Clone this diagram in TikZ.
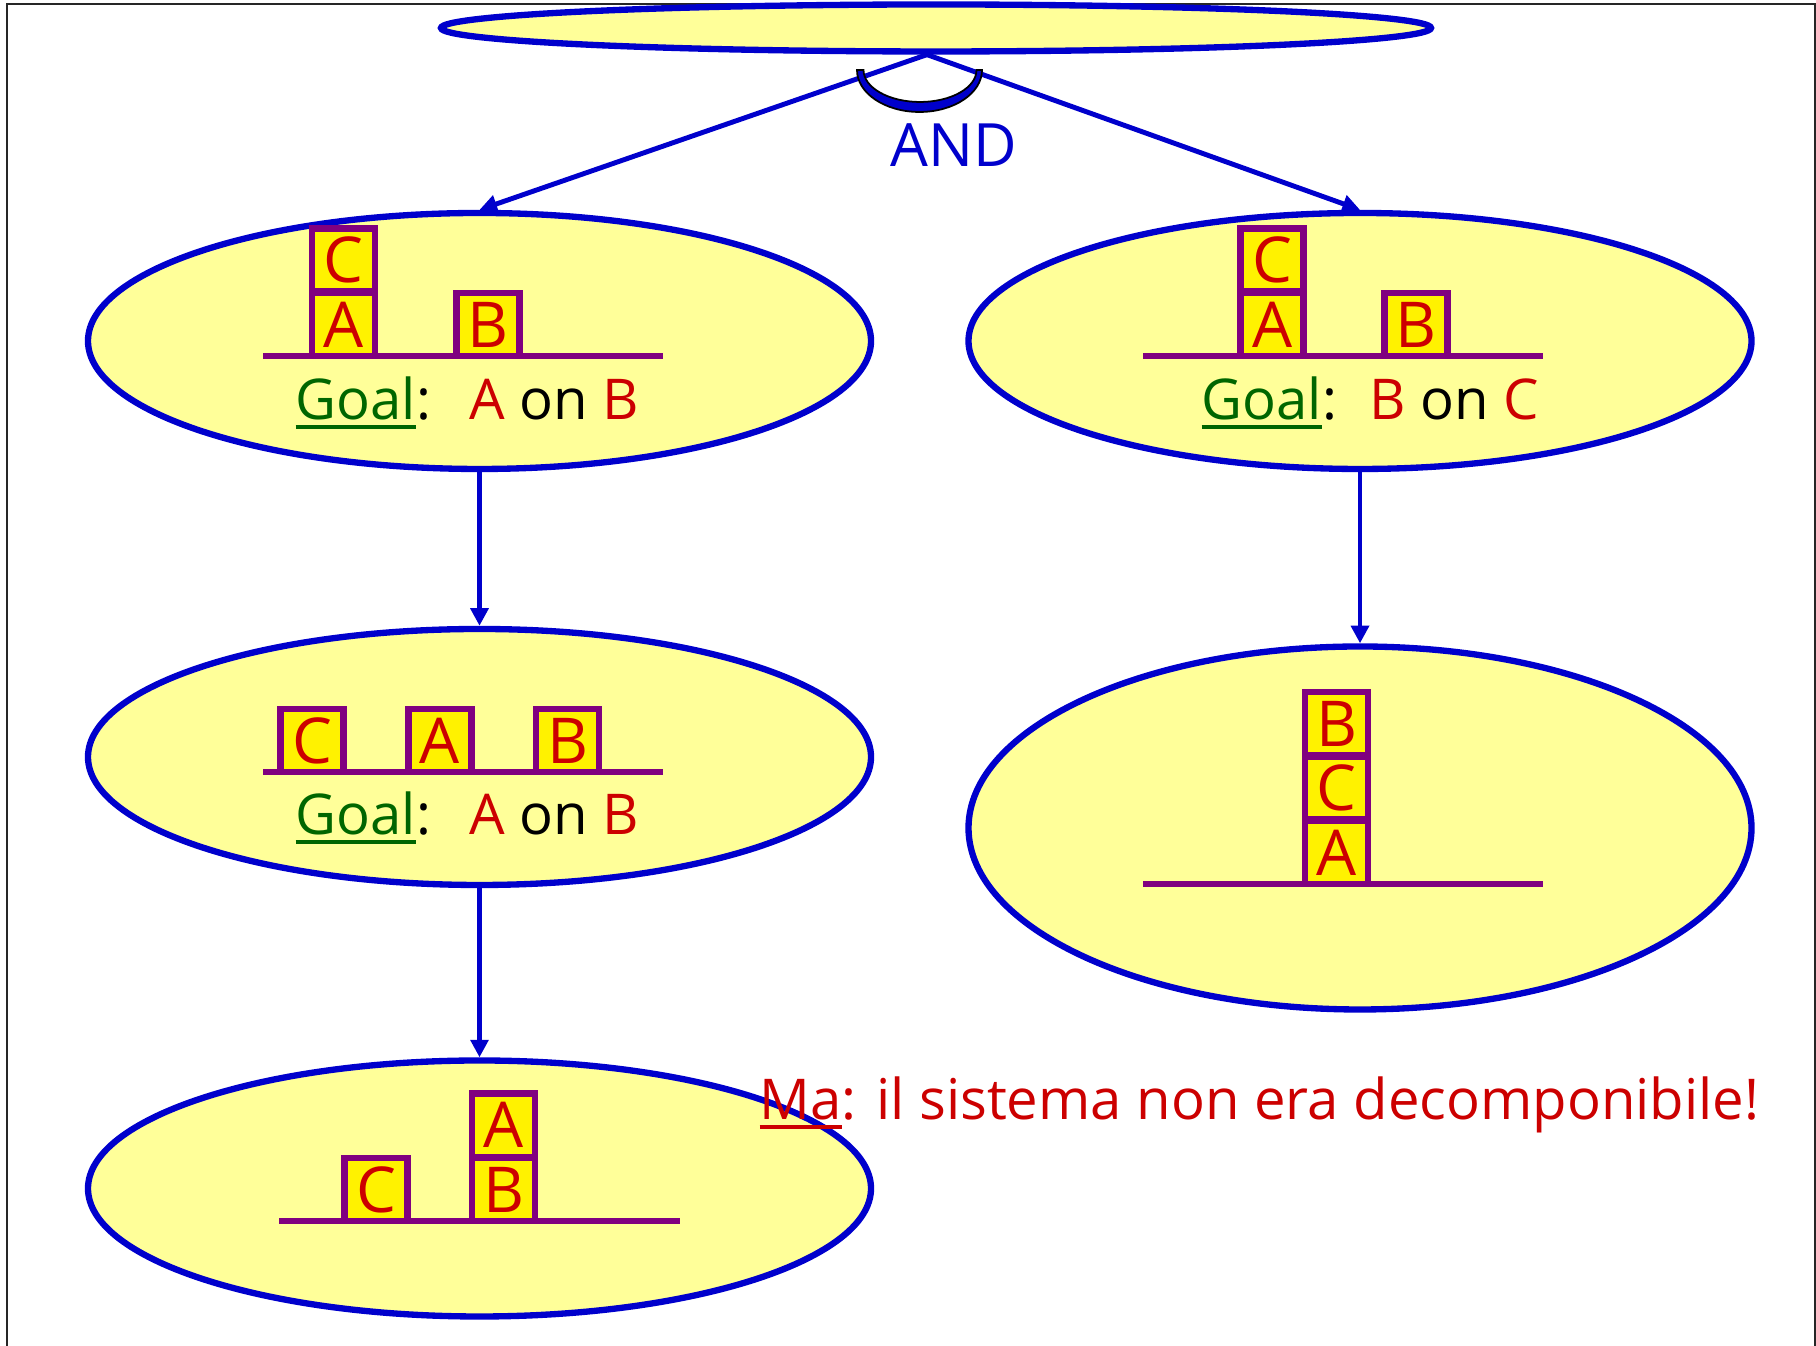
\documentclass[tikz,border=0pt]{standalone}
\usepackage{fontspec}
\setmainfont{Open Sans}
\usetikzlibrary{shapes.geometric,arrows.meta,positioning}

\definecolor{stateyellow}{HTML}{FFFF99}
\definecolor{edgeblue}{HTML}{0000CC}
\definecolor{blockpurple}{HTML}{800080}
\definecolor{letterred}{HTML}{CC0000}
\definecolor{goalgreen}{HTML}{006600}

% thick underline as in the slides
\newcommand{\thickul}[1]{\setbox0\hbox{#1}\rlap{\rule[-2.6pt]{\wd0}{1.1pt}}\box0}

\tikzset{
  world/.style={ellipse, draw=edgeblue, fill=stateyellow, line width=1.8pt,
    minimum width=7.83cm, minimum height=2.56cm, inner sep=0pt},
  block/.style={rectangle, draw=blockpurple, fill=yellow, line width=1.8pt,
    minimum size=0.63cm, inner sep=0pt, text=letterred,
    font=\fontsize{18}{18}\selectfont},
  shelf/.style={draw=blockpurple, line width=1.8pt},
  link/.style={draw=edgeblue, line width=1.4pt,
    -{Triangle[length=5pt,width=5pt]}},
  goaltext/.style={inner sep=0pt, font=\fontsize{16}{16}\selectfont},
}

\begin{document}
\begin{tikzpicture}
  \useasboundingbox (0,0) rectangle (18.16,13.46);
  \draw[line width=0.6pt, black!85] (0.07,-0.2) |- (18.15,13.42) -- (18.15,-0.2);

  % states
  \node[world, minimum width=9.9cm, minimum height=0.47cm] (root) at (9.36,13.18) {};
  \coordinate (fork) at ([xshift=-0.09cm]root.south);
  \node[world] (left1) at (4.795,10.05) {};
  \node[world] (right1) at (13.60,10.05) {};
  \node[world] (left2) at (4.795,5.89) {};
  \node[world, minimum height=3.63cm] (right2) at (13.60,5.18) {};
  \node[world] (left3) at (4.795,1.575) {};

  % decomposition
  \draw[link] (fork) -- (left1.north);
  \draw[link] (fork) -- (right1.north);
  \filldraw[fill=edgeblue, draw=black, line width=0.5pt]
    (8.57,12.76) arc[start angle=180, end angle=360, x radius=0.625, y radius=0.42]
    -- (9.765,12.76) arc[start angle=0, end angle=-180, x radius=0.565, y radius=0.32]
    -- cycle;
  \node[text=edgeblue, font=\fontsize{17}{17}\selectfont] (and) at (9.54,12.01) {AND};

  \draw[link] (left1.south) -- (left2.north);
  \draw[link] (left2.south) -- (left3.north);
  \draw[link] (right1.south) -- (right2.north);

  % left1: C on A, B
  \draw[shelf] (2.63,9.90) -- (6.63,9.90);
  \node[block] (a1) at (3.435,10.215) {A};
  \node[block, above=-0.05cm of a1] (c1) {C};
  \node[block] (b1) at (4.88,10.215) {B};
  \node[goaltext, anchor=base west] (goal1) at (2.95,9.26)
    {\textcolor{goalgreen}{\thickul{Goal}}:};
  \node[goaltext, anchor=base east] (want1) at (6.40,9.26)
    {\textcolor{letterred}{A} on \textcolor{letterred}{B}};

  % right1: C on A, B
  \draw[shelf] (11.43,9.90) -- (15.43,9.90);
  \node[block] (a2) at (12.72,10.215) {A};
  \node[block, above=-0.05cm of a2] (c2) {C};
  \node[block] (b2) at (14.16,10.215) {B};
  \node[goaltext, anchor=base west] (goal2) at (12.01,9.26)
    {\textcolor{goalgreen}{\thickul{Goal}}:};
  \node[goaltext, anchor=base east] (want2) at (15.40,9.26)
    {\textcolor{letterred}{B} on \textcolor{letterred}{C}};

  % left2: all on the table
  \draw[shelf] (2.63,5.74) -- (6.63,5.74);
  \node[block] (c3) at (3.12,6.055) {C};
  \node[block] (a3) at (4.40,6.055) {A};
  \node[block] (b3) at (5.675,6.055) {B};
  \node[goaltext, anchor=base west] (goal3) at (2.95,5.11)
    {\textcolor{goalgreen}{\thickul{Goal}}:};
  \node[goaltext, anchor=base east] (want3) at (6.40,5.11)
    {\textcolor{letterred}{A} on \textcolor{letterred}{B}};

  % right2: B on C on A
  \draw[shelf] (11.43,4.62) -- (15.43,4.62);
  \node[block] (a4) at (13.365,4.935) {A};
  \node[block, above=-0.05cm of a4] (c4) {C};
  \node[block, above=-0.05cm of c4] (b4) {B};

  % left3: A on B, C
  \draw[shelf] (2.79,1.25) -- (6.80,1.25);
  \node[block] (c5) at (3.76,1.565) {C};
  \node[block] (b5) at (5.035,1.565) {B};
  \node[block, above=-0.05cm of b5] (a5) {A};

  \node[anchor=base west, inner sep=0pt, text=letterred,
    font=\fontsize{16}{16}\selectfont] (note) at (7.59,2.26)
    {\thickul{Ma}: il sistema non era decomponibile!};
\end{tikzpicture}
\end{document}
